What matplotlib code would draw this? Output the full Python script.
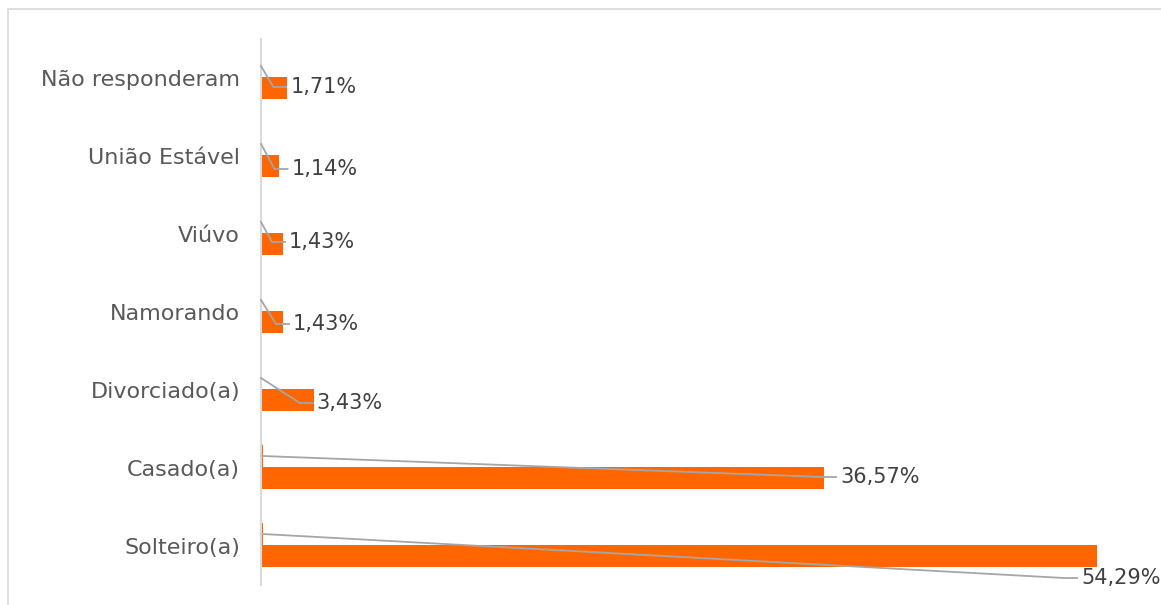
import matplotlib
matplotlib.use("Agg")
import matplotlib.pyplot as plt
from matplotlib.patches import Rectangle

categories = ["Solteiro(a)", "Casado(a)", "Divorciado(a)", "Namorando", "Viúvo", "União Estável", "Não responderam"]
values = [54.29, 36.57, 3.43, 1.43, 1.43, 1.14, 1.71]
values_small = [0.1, 0.1, 0.0, 0.0, 0.0, 0.0, 0.0]
value_labels = ["54,29%", "36,57%", "3,43%", "1,43%", "1,43%", "1,14%", "1,71%"]

# label offsets in pixels relative to bar end / bar center (x right, y down)
label_offsets = [(-16, 22), (16, -1), (3, 3), (10, 2), (6, -2), (13, 3), (3, -1)]

W, H = 1161, 605
DPI = 100
plt.rcParams['font.family'] = ['DejaVu Sans']
fig = plt.figure(figsize=(W / DPI, H / DPI), dpi=DPI)
fig.patch.set_facecolor("white")

# chart border
fig.add_artist(Rectangle((8 / W, -0.01), 1.5, 1 - 9 / H + 0.01, transform=fig.transFigure,
                         fill=False, edgecolor="#D9D9D9", linewidth=1.2))

ax_left, ax_right, ax_top, ax_bot = 261, 1150, 39, 585
ax = fig.add_axes([ax_left / W, 1 - ax_bot / H, (ax_right - ax_left) / W, (ax_bot - ax_top) / H])

px_per_unit = (1097 - 261) / 54.29
xmax = (ax_right - ax_left) / px_per_unit
ax.set_xlim(0, xmax)
ax.set_ylim(-0.5, len(categories) - 0.5)

band_px = (ax_bot - ax_top) / len(categories)
main_off = -10 / band_px
small_off = 12 / band_px
bar_h = 22 / band_px

orange = "#FF6600"
ypos = list(range(len(categories)))
ax.barh([y + main_off for y in ypos], values, height=bar_h, color=orange, edgecolor="none")
ax.barh([y + small_off for y in ypos], values_small, height=bar_h, color=orange, edgecolor="none")

ax.set_yticks(ypos)
ax.set_yticklabels(categories, fontsize=16, color="#595959")
ax.tick_params(axis="y", length=0, pad=15)
ax.set_xticks([])
for s in ["top", "right", "bottom"]:
    ax.spines[s].set_visible(False)
ax.spines["left"].set_color("#D9D9D9")
ax.spines["left"].set_linewidth(1.5)

fig.canvas.draw()
tr = ax.transData
inv = tr.inverted()
for y, v, vs, lab, (dx, dy) in zip(ypos, values, values_small, value_labels, label_offsets):
    bx, by = tr.transform((v, y + main_off))
    lx, ly = bx + dx, by - dy
    tx, ty = inv.transform((lx, ly))
    ax.text(tx, ty, lab, ha="left", va="center", fontsize=15, color="#404040")
    sx, sy = tr.transform((vs, y + small_off))
    pts = [(sx, sy), (lx - 17, ly), (lx - 4, ly)]
    dpts = [inv.transform(p) for p in pts]
    ax.plot([p[0] for p in dpts], [p[1] for p in dpts], color="#A6A6A6", linewidth=1.3,
            clip_on=False, zorder=3)

fig.savefig("out.png", dpi=DPI, facecolor="white")
